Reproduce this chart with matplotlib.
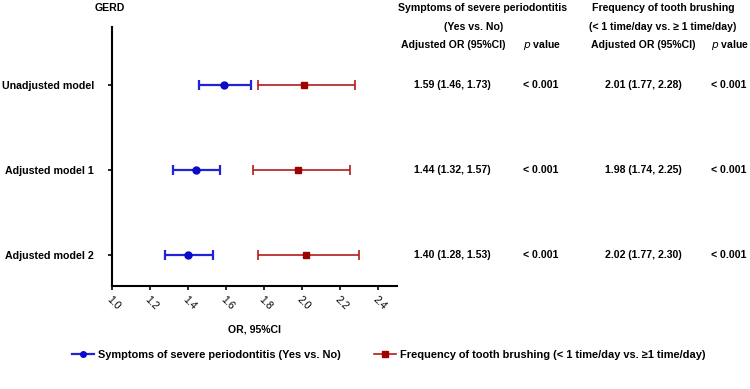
import matplotlib.pyplot as plt
from matplotlib.lines import Line2D

plt.rcParams["font.family"] = ["Liberation Sans", "DejaVu Sans"]

# ===== data =====
MODELS = ["Unadjusted model", "Adjusted model 1", "Adjusted model 2"]

PERIO_OR = [1.59, 1.44, 1.40]
PERIO_LO = [1.46, 1.32, 1.28]
PERIO_HI = [1.73, 1.57, 1.53]
PERIO_P = ["< 0.001", "< 0.001", "< 0.001"]

BRUSH_OR = [2.01, 1.98, 2.02]
BRUSH_LO = [1.77, 1.74, 1.77]
BRUSH_HI = [2.28, 2.25, 2.30]
BRUSH_P = ["< 0.001", "< 0.001", "< 0.001"]

X_TICKS = [1.0, 1.2, 1.4, 1.6, 1.8, 2.0, 2.2, 2.4]

BLUE = "#2323d6"
BLUE_DARK = "#0a0ac8"
RED = "#b01c1c"
RED_DARK = "#a00000"

W, H = 750, 389
fig = plt.figure(figsize=(W / 100, H / 100), dpi=100)


def fx(px):
    return px / W


def fy(py):
    return 1 - py / H


ax = fig.add_axes([fx(112), fy(286), fx(397) - fx(112), fy(27) - fy(286)])

ypos = [3, 2, 1]

for y, o, lo, hi in zip(ypos, PERIO_OR, PERIO_LO, PERIO_HI):
    ax.errorbar(o, y, xerr=[[o - lo], [hi - o]], fmt="o", color=BLUE,
                mfc=BLUE_DARK, mec=BLUE_DARK, ms=5, elinewidth=1.6,
                capsize=3.5, capthick=1.6)
for y, o, lo, hi in zip(ypos, BRUSH_OR, BRUSH_LO, BRUSH_HI):
    ax.errorbar(o, y, xerr=[[o - lo], [hi - o]], fmt="s", color=RED,
                mfc=RED_DARK, mec=RED_DARK, ms=5, elinewidth=1.2,
                capsize=3.5, capthick=1.2)

ax.set_xlim(1.0, 2.5)
ax.set_ylim(0.635, 3.68)
ax.spines["top"].set_visible(False)
ax.spines["right"].set_visible(False)
ax.spines["left"].set_linewidth(1.5)
ax.spines["bottom"].set_linewidth(1.5)

ax.set_xticks(X_TICKS)
ax.set_xticklabels([f"{t:.1f}" for t in X_TICKS], rotation=-45,
                   ha="left", va="top", rotation_mode="anchor", fontsize=7.5)
ax.tick_params(axis="x", length=3, width=1.2, pad=3)
ax.set_yticks(ypos)
ax.set_yticklabels(MODELS, fontsize=7.7, fontweight="bold")
ax.tick_params(axis="y", length=3, width=1.2, pad=10)

# header and table text
bold = dict(fontsize=7.6, fontweight="bold", ha="center", va="center")
fig.text(fx(110), fy(8), "GERD", **bold)
fig.text(fx(483), fy(8), "Symptoms of severe periodontitis", **bold)
fig.text(fx(474), fy(27), "(Yes vs. No)", **bold)
fig.text(fx(453), fy(45), "Adjusted OR (95%CI)", **bold)
fig.text(fx(663), fy(8), "Frequency of tooth brushing", **bold)
fig.text(fx(663), fy(27), "(< 1 time/day vs. \u2265 1 time/day)", **bold)
fig.text(fx(643), fy(45), "Adjusted OR (95%CI)", **bold)
for xc in (542, 730):
    fig.text(fx(xc), fy(45), r"$\it{p}$ value", **bold)

row_px = [85, 170, 255]
for i, yp in enumerate(row_px):
    fig.text(fx(452), fy(yp), f"{PERIO_OR[i]:.2f} ({PERIO_LO[i]:.2f}, {PERIO_HI[i]:.2f})", **bold)
    fig.text(fx(541), fy(yp), PERIO_P[i], **bold)
    fig.text(fx(643), fy(yp), f"{BRUSH_OR[i]:.2f} ({BRUSH_LO[i]:.2f}, {BRUSH_HI[i]:.2f})", **bold)
    fig.text(fx(729), fy(yp), BRUSH_P[i], **bold)

fig.text(fx(254), fy(330), "OR, 95%CI", **bold)

handles = [
    Line2D([], [], color=BLUE, marker="o", ms=4, mfc=BLUE_DARK, mec=BLUE_DARK, lw=1.6),
    Line2D([], [], color=RED, marker="s", ms=4, mfc=RED_DARK, mec=RED_DARK, lw=1.2),
]
labels = [
    "Symptoms of severe periodontitis (Yes vs. No)",
    "Frequency of tooth brushing (< 1 time/day vs. \u22651 time/day)",
]
fig.legend(handles, labels, loc="center left", bbox_to_anchor=(fx(72), fy(355)),
           ncol=2, frameon=False,
           prop={"size": 7.9, "weight": "bold"},
           handlelength=2.0, handletextpad=0.4, columnspacing=3.0, borderpad=0,
           borderaxespad=0)

fig.savefig("out.png", dpi=100)
